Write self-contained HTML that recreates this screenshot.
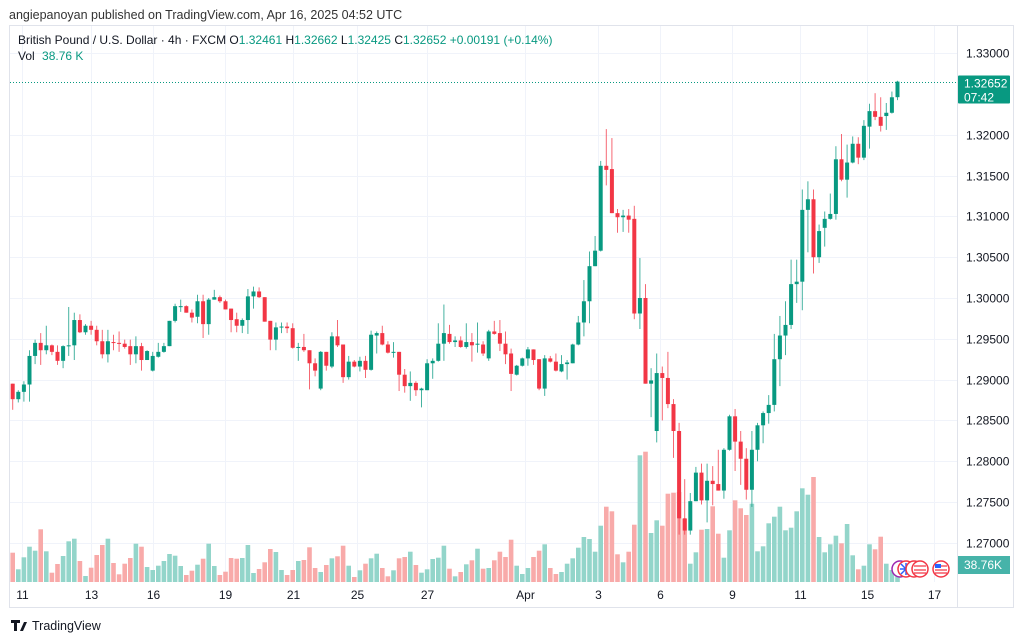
<!DOCTYPE html>
<html><head><meta charset="utf-8"><style>
html,body{margin:0;padding:0;background:#fff;width:1024px;height:641px;overflow:hidden;font-family:"Liberation Sans",sans-serif}
svg{display:block}
text{font-family:"Liberation Sans",sans-serif}
</style></head><body>
<svg id="chart" width="1024" height="641" viewBox="0 0 1024 641">
<rect x="0" y="0" width="1024" height="641" fill="#fff"/>
<text x="9" y="19" font-size="12.5" fill="#333">angiepanoyan published on TradingView.com, Apr 16, 2025 04:52 UTC</text>
<rect x="9.5" y="25.5" width="1004" height="582" fill="none" stroke="#e0e3eb"/>
<line x1="957.5" y1="25" x2="957.5" y2="607" stroke="#e0e3eb"/>
<g id="grid"></g>
<g id="vols"></g>
<g id="candles"></g>
<g id="yaxis"></g>
<g id="xaxis"></g>
<g>
<text x="18" y="44" font-size="12" fill="#131722">British Pound / U.S. Dollar · 4h · FXCM <tspan fill="#131722">O</tspan><tspan fill="#089981">1.32461</tspan> <tspan fill="#131722">H</tspan><tspan fill="#089981">1.32662</tspan> <tspan fill="#131722">L</tspan><tspan fill="#089981">1.32425</tspan> <tspan fill="#131722">C</tspan><tspan fill="#089981">1.32652</tspan> <tspan fill="#089981">+0.00191 (+0.14%)</tspan></text>
<text x="18" y="60" font-size="12" fill="#131722">Vol <tspan fill="#089981" dx="4">38.76 K</tspan></text>
</g>
<g>
<circle cx="900" cy="569" r="8" fill="#fff" stroke="#9c27b0" stroke-width="1.5"/>
<circle cx="906" cy="569" r="8" fill="#fff" stroke="#f23645" stroke-width="1.5"/>
<path d="M900 569h12M906 563v12M901 564l10 10M911 564l-10 10" stroke="#2962ff" stroke-width="1.5"/>
<circle cx="914" cy="569" r="8" fill="#fff" stroke="#f23645" stroke-width="1.5"/>
<circle cx="920" cy="569" r="8" fill="#fff" stroke="#f23645" stroke-width="1.5"/>
<path d="M914 566h12M914 570h12M914 573h12" stroke="#f23645" stroke-width="1.3"/>
<circle cx="941" cy="569" r="8" fill="#fff" stroke="#f23645" stroke-width="1.5"/>
<rect x="935" y="564" width="6" height="4" fill="#2962ff"/>
<path d="M935 570h12M935 573h12M941 566h6" stroke="#f23645" stroke-width="1.3"/>
</g>
<g>
<line id="lastline" x1="10" x2="957" stroke="#089981" stroke-dasharray="1,2"/>
<rect id="lastbox" x="958" width="52" height="28" rx="1" fill="#089981"/>
<text id="lasttxt" x="964" font-size="12" fill="#fff">1.32652</text>
<text id="lasttime" x="964" font-size="12" fill="#fff">07:42</text>
</g>
<rect x="958" y="556" width="52" height="18" fill="#26a69a" opacity="0.85"/>
<text x="964" y="569" font-size="12" fill="#fff">38.76K</text>
<g>
<path d="M11 620h9v3h-3v8h-3v-8h-3z M20 631l4-9h3l-4 9z" fill="#131722"/>
<text x="32" y="630" font-size="12.5" fill="#131722">TradingView</text>
</g>
</svg>
<script>
const opens=[1.2895,1.2876,1.2885,1.2894,1.2929,1.2945,1.2936,1.2942,1.2934,1.2923,
1.2941,1.2942,1.2973,1.2958,1.2966,1.2961,1.2947,1.2931,1.2946,1.2945,
1.2944,1.2941,1.2931,1.2941,1.2924,1.2911,1.2928,1.2934,1.2941,1.2972,
1.2990,1.2990,1.2982,1.2977,1.2996,1.2968,1.2998,1.3001,1.2996,1.2987,
1.2974,1.2966,1.2973,1.3002,1.3008,1.3001,1.2972,1.2949,1.2964,1.2965,
1.2963,1.2939,1.2940,1.2936,1.2920,1.2889,1.2934,1.2916,1.2953,1.2943,
1.2903,1.2922,1.2916,1.2923,1.2912,1.2954,1.2957,1.2943,1.2933,1.2934,
1.2906,1.2892,1.2896,1.2887,1.2887,1.2920,1.2923,1.2944,1.2956,1.2946,
1.2948,1.2940,1.2946,1.2944,1.2943,1.2926,1.2959,1.2957,1.2944,1.2932,
1.2906,1.2917,1.2926,1.2937,1.2925,1.2889,1.2926,1.2922,1.2910,1.2919,
1.2920,1.2943,1.2970,1.2996,1.3039,1.3058,1.3162,1.3158,1.3104,1.3099,
1.3101,1.3097,1.2981,1.3000,1.2895,1.2837,1.2908,1.2902,1.2870,1.2837,
1.2730,1.2715,1.2751,1.2786,1.2752,1.2776,1.2772,1.2764,1.2814,1.2855,
1.2824,1.2803,1.2765,1.2814,1.2844,1.2859,1.2869,1.2925,1.2954,1.2967,
1.3017,1.3020,1.3108,1.3121,1.3050,1.3086,1.3097,1.3103,1.3170,1.3145,
1.3166,1.3189,1.3172,1.3210,1.3229,1.3222,1.3223,1.3227,1.32461];
const highs=[1.2895,1.2887,1.2898,1.2936,1.2949,1.2957,1.2966,1.2943,1.2942,1.2942,
1.2989,1.2982,1.2980,1.2968,1.2972,1.2966,1.2961,1.2961,1.2955,1.2959,
1.2949,1.2949,1.2953,1.2945,1.2936,1.2934,1.2945,1.2945,1.2972,1.2993,
1.2998,1.2991,1.2986,1.3004,1.3004,1.3000,1.3010,1.3003,1.2998,1.2987,
1.2982,1.2975,1.3011,1.3014,1.3013,1.3001,1.2972,1.2970,1.2970,1.2970,
1.2969,1.2945,1.2956,1.2936,1.2926,1.2935,1.2934,1.2958,1.2973,1.2943,
1.2929,1.2924,1.2928,1.2929,1.2960,1.2959,1.2966,1.2947,1.2946,1.2934,
1.2913,1.2910,1.2898,1.2890,1.2925,1.2926,1.2969,1.2992,1.2967,1.2953,
1.2953,1.2969,1.2957,1.2970,1.2947,1.2961,1.2972,1.2973,1.2959,1.2938,
1.2918,1.2927,1.2940,1.2937,1.2925,1.2930,1.2929,1.2932,1.2930,1.2924,
1.2944,1.2978,1.3022,1.3057,1.3076,1.3168,1.3207,1.3196,1.3109,1.3108,
1.3109,1.3113,1.3049,1.3017,1.2914,1.2932,1.2916,1.2934,1.2876,1.2847,
1.2778,1.2761,1.2793,1.2797,1.2797,1.2794,1.2814,1.2816,1.2857,1.2864,
1.2837,1.2816,1.2837,1.2847,1.2861,1.2881,1.2956,1.2978,1.2996,1.3047,
1.3047,1.3133,1.3143,1.3133,1.3090,1.3106,1.3128,1.3186,1.3201,1.3188,
1.3198,1.3197,1.3218,1.3238,1.3251,1.3246,1.3239,1.3253,1.32662];
const lows=[1.2863,1.2872,1.2873,1.2873,1.2919,1.2918,1.2931,1.2930,1.2918,1.2914,
1.2929,1.2924,1.2957,1.2955,1.2955,1.2942,1.2926,1.2921,1.2936,1.2934,
1.2938,1.2918,1.2920,1.2911,1.2924,1.2910,1.2927,1.2933,1.2941,1.2970,
1.2983,1.2982,1.2970,1.2969,1.2951,1.2955,1.2998,1.2994,1.2986,1.2958,
1.2958,1.2957,1.2956,1.2987,1.3000,1.2971,1.2936,1.2936,1.2957,1.2957,
1.2938,1.2923,1.2934,1.2888,1.2904,1.2887,1.2911,1.2914,1.2940,1.2896,
1.2900,1.2915,1.2910,1.2902,1.2911,1.2932,1.2942,1.2932,1.2927,1.2886,
1.2884,1.2874,1.2880,1.2866,1.2887,1.2901,1.2922,1.2923,1.2944,1.2940,
1.2939,1.2938,1.2922,1.2933,1.2929,1.2923,1.2955,1.2935,1.2919,1.2886,
1.2905,1.2916,1.2917,1.2918,1.2887,1.2880,1.2921,1.2910,1.2909,1.2900,
1.2920,1.2942,1.2953,1.2969,1.3039,1.3057,1.3138,1.3104,1.3080,1.3081,
1.3080,1.2974,1.2962,1.2895,1.2854,1.2823,1.2850,1.2865,1.2804,1.2710,
1.2710,1.2710,1.2751,1.2747,1.2725,1.2746,1.2764,1.2754,1.2813,1.2788,
1.2771,1.2753,1.2744,1.2800,1.2822,1.2846,1.2861,1.2892,1.2930,1.2962,
1.2994,1.2985,1.3056,1.3030,1.3043,1.3063,1.3096,1.3096,1.3143,1.3123,
1.3165,1.3164,1.3169,1.3183,1.3218,1.3204,1.3206,1.3226,1.32425];
const closes=[1.2876,1.2885,1.2894,1.2929,1.2945,1.2936,1.2942,1.2934,1.2923,1.2941,
1.2942,1.2973,1.2958,1.2966,1.2961,1.2947,1.2931,1.2947,1.2945,1.2944,
1.2940,1.2931,1.2941,1.2924,1.2935,1.2929,1.2934,1.2941,1.2972,1.2990,
1.2990,1.2982,1.2976,1.2996,1.2968,1.2998,1.3001,1.2996,1.2986,1.2973,
1.2966,1.2973,1.3002,1.3008,1.3001,1.2971,1.2949,1.2964,1.2965,1.2963,
1.2939,1.2940,1.2936,1.2920,1.2911,1.2934,1.2917,1.2953,1.2942,1.2903,
1.2922,1.2916,1.2923,1.2912,1.2955,1.2957,1.2943,1.2933,1.2934,1.2906,
1.2892,1.2896,1.2887,1.2889,1.2920,1.2923,1.2944,1.2957,1.2946,1.2948,
1.2940,1.2946,1.2942,1.2944,1.2932,1.2959,1.2956,1.2944,1.2931,1.2907,
1.2917,1.2926,1.2937,1.2924,1.2889,1.2926,1.2922,1.2911,1.2919,1.2921,
1.2943,1.2970,1.2996,1.3039,1.3058,1.3162,1.3157,1.3104,1.3099,1.3101,
1.3096,1.2981,1.3000,1.2895,1.2899,1.2908,1.2902,1.2870,1.2837,1.2730,
1.2715,1.2751,1.2786,1.2752,1.2776,1.2772,1.2764,1.2814,1.2855,1.2824,
1.2803,1.2765,1.2814,1.2844,1.2859,1.2869,1.2925,1.2954,1.2967,1.3017,
1.3020,1.3108,1.3121,1.3050,1.3082,1.3097,1.3103,1.3170,1.3145,1.3166,
1.3189,1.3172,1.3211,1.3229,1.3222,1.3211,1.3227,1.3246,1.32652];
const volumes=[29.3,12.7,24.7,35.3,31.3,52.7,30.7,9.3,18,26,
40.7,43.3,21,6,14.3,27,37,43.3,19,7.7,
18.3,24,38.3,35.3,15,12,16.3,21,28,26.3,
16,7,11.3,17.3,23.3,38.3,16,7,10.3,24,
23.3,24,37,9,13,19.7,33,30,12,7,
12,21,22,34.7,14,10,17,23.7,25.7,36.3,
16.3,5,11.7,18.3,23.7,28.3,14,5.7,11.7,23.7,
25,30.3,17,9.3,12.7,23,24.3,36.3,13.3,5.7,
10,17.7,21.7,33.3,13.3,14,21.7,30.3,25,42.3,
16.3,8,14,25,31.3,37.7,14,8,10,18.3,
23.7,34.3,45,43,30.3,56.3,75.3,70.7,27.7,19.7,
30.3,57.3,126.7,130.3,49,61.7,56.3,88.3,89.3,90,
63,18.3,29.7,52.3,53,75.7,48.3,24.3,51.7,81.7,
73.7,67,78.3,30.7,35.7,58.7,65.3,75.3,51.7,54.3,
70.7,93.7,87.3,105,45,29.7,37.7,46.3,38.7,58,
26.7,12.7,16.3,37.7,32.7,45.3,18.3,12,17];
const priceTicks=[1.33,1.325,1.32,1.315,1.31,1.305,1.30,1.295,1.29,1.285,1.28,1.275,1.27];
const timeLabels=["11","13","16","19","21","25","27","Apr","3","6","9","11","15","17"];
const timeLabelIndex=[1.7,14,25,38,50,61.5,74,91.5,104.5,115.5,128.5,140.5,152.5,164.5];

const NS="http://www.w3.org/2000/svg";
const y=p=>298-(p-1.30)*8160;
const x=i=>12.7+i*5.6;
const vy=v=>582-v;
function mk(tag,attrs,parent){const e=document.createElementNS(NS,tag);for(const k in attrs)e.setAttribute(k,attrs[k]);parent.appendChild(e);return e;}
const grid=document.getElementById('grid'),yax=document.getElementById('yaxis'),xax=document.getElementById('xaxis');
priceTicks.forEach(p=>{
  if(p===1.325)return;
  const yy=Math.round(y(p))+0.5;
  const l=mk('line',{x1:10,x2:957,y1:yy,y2:yy,stroke:'#f0f3fa'},grid);
  
  
  const t=mk('text',{x:966,y:yy+4,'font-size':12,fill:'#131722'},yax);
  t.textContent=p.toFixed(5);
  
  
});
timeLabels.forEach((s,k)=>{
  const xx=Math.round(x(timeLabelIndex[k]))+0.5;
  const l=mk('line',{x1:xx,x2:xx,y1:26,y2:582,stroke:'#f0f3fa'},grid);
  
  
  const t=mk('text',{x:xx,y:599,'font-size':12,fill:'#131722','text-anchor':'middle'},xax);
  t.textContent=s;
  
  
});
const vg=document.getElementById('vols'),cg=document.getElementById('candles');
for(let i=0;i<closes.length;i++){
  const up=closes[i]>=opens[i];
  const col=up?'#089981':'#f23645';
  const cx=x(i);
  const vb=mk('rect',{x:cx-2.3,y:vy(volumes[i]),width:4.6,height:volumes[i],fill:up?'#93d5ca':'#f8aaa9'},vg);
  
  
  const w=mk('line',{x1:cx,x2:cx,y1:y(highs[i]),y2:y(lows[i]),stroke:col,'stroke-width':1,opacity:0.75},cg);
  
  
  const top=y(Math.max(opens[i],closes[i])),bot=y(Math.min(opens[i],closes[i]));
  const b=mk('rect',{x:cx-2,y:top,width:4,height:Math.max(1,bot-top),fill:col},cg);
  
  
}
const last=closes[closes.length-1],ly=Math.round(y(last))+0.5;
const ll=document.getElementById('lastline');ll.setAttribute('y1',ly);ll.setAttribute('y2',ly);
document.getElementById('lastbox').setAttribute('y',ly-7);
document.getElementById('lasttxt').setAttribute('y',ly+5);
document.getElementById('lasttime').setAttribute('y',ly+19);
document.getElementById('lasttxt').textContent=last.toFixed(5);
</script>
</body></html>
